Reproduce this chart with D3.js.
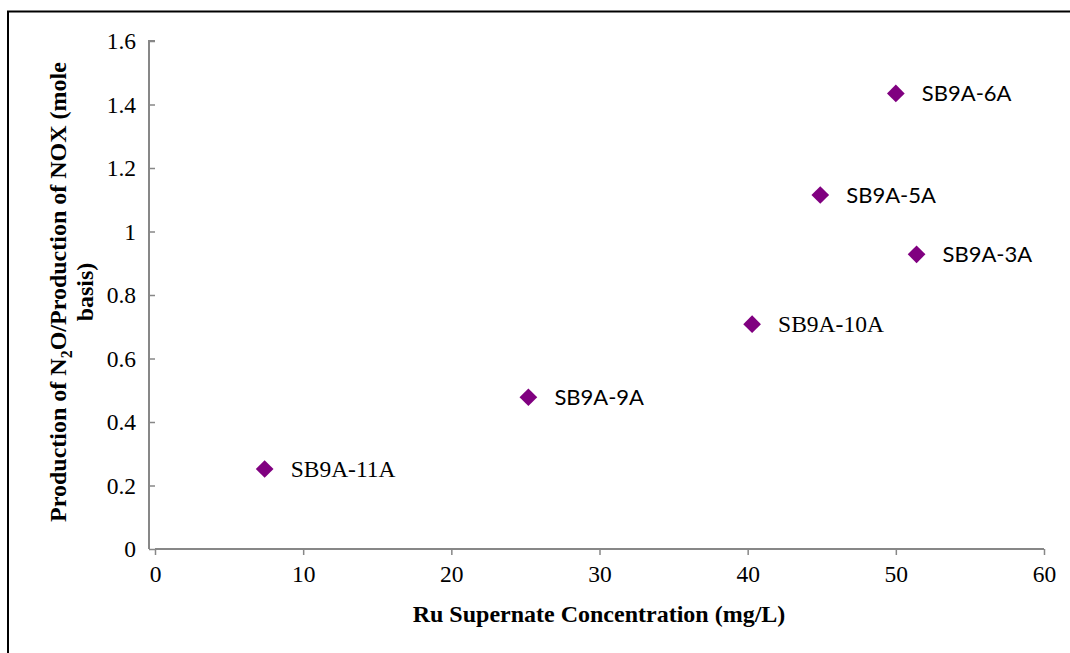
<!DOCTYPE html>
<html>
<head>
<meta charset="utf-8">
<script src="https://cdn.jsdelivr.net/npm/d3@7"></script>
<style>
  html, body { margin: 0; padding: 0; background: #fff; }
  svg { display: block; }
  .serif { font-family: "Liberation Serif", "Times New Roman", serif; }
  .sans { font-family: Lato, "Open Sans", sans-serif; }
</style>
</head>
<body>
<svg id="chart" width="1070" height="653"></svg>
<script>
// Samples: Ru supernate concentration vs N2O/NOX production ratio
const sampleNames = ["SB9A-11A", "SB9A-9A", "SB9A-10A", "SB9A-5A", "SB9A-3A", "SB9A-6A"];
const ruConc      = [7.4, 25.2, 40.3, 44.9, 51.4, 50.0];
const n2oNoxRatio = [0.252, 0.478, 0.708, 1.115, 0.928, 1.435];
const labelSans   = [false, true, false, true, true, true];

const xTicks = [0, 10, 20, 30, 40, 50, 60];
const yTicks = [0, 0.2, 0.4, 0.6, 0.8, 1, 1.2, 1.4, 1.6];

const W = 1070, H = 653;
const margin = { left: 155, right: 26, top: 41, bottom: 104 };
const svg = d3.select("#chart");

// outer frame
svg.append("rect")
  .attr("x", 8).attr("y", 11.5)
  .attr("width", W + 20).attr("height", H + 20)
  .attr("fill", "none").attr("stroke", "#000").attr("stroke-width", 2);

const x = d3.scaleLinear().domain([0, 60]).range([margin.left, W - margin.right]);
const y = d3.scaleLinear().domain([0, 1.6]).range([H - margin.bottom, margin.top]);

const axisColor = "#878787";

// x axis
const gx = svg.append("g")
  .attr("transform", `translate(0,${y(0)})`)
  .call(d3.axisBottom(x).tickValues(xTicks).tickSize(6).tickPadding(10).tickFormat(d3.format("d")));
gx.attr("font-family", null).attr("font-size", null);
gx.select(".domain").attr("stroke", axisColor).attr("stroke-width", 2)
  .attr("d", `M${x(0)},0H${x(60)}`);
gx.selectAll(".tick line").attr("stroke", axisColor).attr("stroke-width", 1.5);
gx.selectAll(".tick text").attr("fill", "#000").attr("class", "serif").style("font-size", "23.5px");

// y axis
const gy = svg.append("g")
  .attr("transform", `translate(${x(0)},0)`)
  .call(d3.axisLeft(y).tickValues(yTicks).tickSize(6).tickPadding(13).tickFormat(d => d3.format("~g")(d)));
gy.attr("font-family", null).attr("font-size", null);
gy.select(".domain").attr("stroke", axisColor).attr("stroke-width", 2)
  .attr("d", `M0,${y(1.6)}H-6V${y(0)}`);
gy.selectAll(".tick line").attr("stroke", axisColor).attr("stroke-width", 1.5);
gy.selectAll(".tick text").attr("fill", "#000").attr("class", "serif").style("font-size", "23.5px");

// axis titles
svg.append("text")
  .attr("class", "serif")
  .attr("x", 599).attr("y", 622)
  .attr("text-anchor", "middle")
  .style("font-size", "24px").style("font-weight", "bold")
  .text("Ru Supernate Concentration (mg/L)");

const yt = svg.append("text")
  .attr("class", "serif")
  .attr("transform", "translate(66,292) rotate(-90)")
  .attr("text-anchor", "middle")
  .style("font-size", "24px").style("font-weight", "bold");
const l1 = yt.append("tspan").attr("x", 0).attr("y", 0);
l1.append("tspan").text("Production of N");
l1.append("tspan").attr("dy", 6).style("font-size", "16px").text("2");
l1.append("tspan").attr("dy", -6).text("O/Production of NOX (mole");
yt.append("tspan").attr("x", 0).attr("y", 27).text("basis)");

// points
const pts = sampleNames.map((n, i) => ({ name: n, x: ruConc[i], y: n2oNoxRatio[i], sans: labelSans[i] }));

svg.append("g").selectAll("path")
  .data(pts).join("path")
  .attr("transform", d => `translate(${x(d.x)},${y(d.y)})`)
  .attr("d", d3.symbol().type(d3.symbolDiamond2).size(200))
  .attr("fill", "#800080");

svg.append("g").selectAll("text")
  .data(pts).join("text")
  .attr("class", d => d.sans ? "sans" : "serif")
  .attr("x", d => x(d.x) + 26)
  .attr("y", d => y(d.y) + 8)
  .style("font-size", d => d.sans ? "22px" : "23.5px")
  .attr("fill", "#000")
  .text(d => d.name);
</script>
</body>
</html>
